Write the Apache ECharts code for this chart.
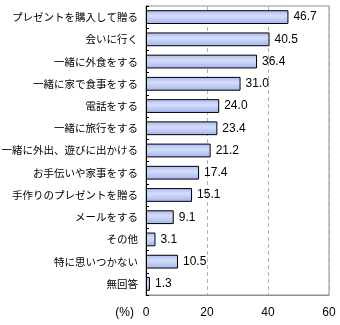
<!DOCTYPE html>
<html><head><meta charset="utf-8">
<script src="https://cdn.jsdelivr.net/npm/echarts@6/dist/echarts.min.js"></script>
<style>html,body{margin:0;padding:0;background:#fff}#c{width:340px;height:325px}</style>
</head><body><div id="c"></div>
<script>
const categories = ["プレゼントを購入して贈る","会いに行く","一緒に外食をする","一緒に家で食事をする","電話をする","一緒に旅行をする","一緒に外出、遊びに出かける","お手伝いや家事をする","手作りのプレゼントを贈る","メールをする","その他","特に思いつかない","無回答"];
const values = [46.7,40.5,36.4,31.0,24.0,23.4,21.2,17.4,15.1,9.1,3.1,10.5,1.3];
const xTicks = [0,20,40,60];
const font = '"Noto Sans CJK JP", sans-serif';
const numFont = '"Liberation Sans", Arial, sans-serif';
const chart = echarts.init(document.getElementById('c'));
chart.setOption({
  animation:false,
  grid:{left:146,right:11,top:6,bottom:30,show:true,borderColor:'#8c8c8c',borderWidth:1,containLabel:false,outerBoundsMode:'none'},
  xAxis:{type:'value',min:xTicks[0],max:xTicks[xTicks.length-1],interval:20,
    axisLine:{show:true,lineStyle:{color:'#8c8c8c'}},axisTick:{show:false},
    axisLabel:{color:'#000',fontSize:12,fontFamily:numFont,margin:12},
    splitLine:{show:true,lineStyle:{color:'#b0b0b0',type:[4,3]}},
    name:'(%)',nameLocation:'start',nameGap:12,
    nameTextStyle:{color:'#000',fontSize:12,fontFamily:numFont,align:'right',verticalAlign:'top',padding:[12,0,0,0]}},
  yAxis:{type:'category',data:categories,inverse:true,
    axisLine:{show:true,lineStyle:{color:'#000'}},
    axisTick:{show:true,inside:true,length:3,lineStyle:{color:'#000'}},
    axisLabel:{color:'#000',fontSize:10.5,fontFamily:font,margin:8},
    splitLine:{show:false}},
  series:[{type:'bar',data:values,barCategoryGap:'38%',
    itemStyle:{borderColor:'#000',borderWidth:1,
      color:new echarts.graphic.LinearGradient(0,0,0,1,[{offset:0,color:'#a8b6ee'},{offset:0.4,color:'#d4defa'},{offset:1,color:'#a4b2ec'}])},
    label:{show:true,position:'right',distance:5,color:'#000',fontSize:12,fontFamily:numFont,formatter:p=>p.value.toFixed(1)}}]
});
</script></body></html>
